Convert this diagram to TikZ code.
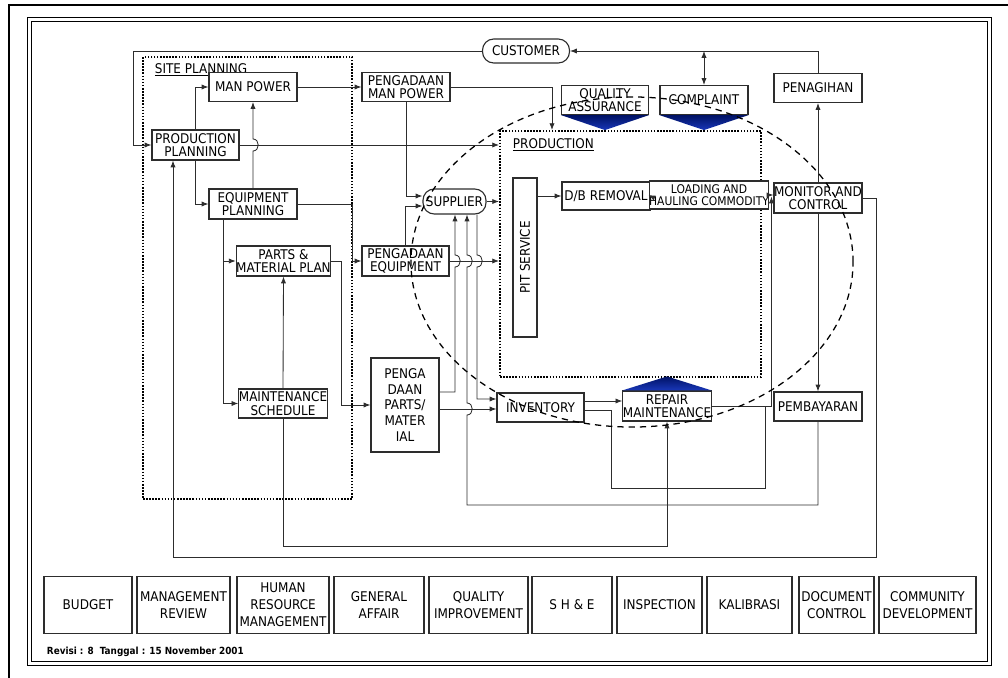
\documentclass[tikz,border=0pt]{standalone}
\usepackage{fontspec}
\setmainfont{DejaVu Sans Condensed}
\usetikzlibrary{arrows.meta,positioning,calc,fit}
\definecolor{cNavy}{RGB}{0,18,100}
\definecolor{cBlue}{RGB}{25,55,185}
\definecolor{cLine}{RGB}{45,45,45}
\newcommand{\nfont}{\fontsize{9.5}{9.5}\selectfont}
\newcommand{\sfont}{\fontsize{8.5}{8.5}\selectfont}
\newcommand{\bfont}{\fontsize{9.5}{12}\selectfont}

\begin{document}
\begin{tikzpicture}[x=0.025cm, y=-0.025cm,
  box/.style={draw=cLine, line width=0.8pt, fill=white, font=\nfont, align=center,
              inner sep=0pt, minimum width=2.2cm, minimum height=0.73cm},
  rbox/.style={box, rounded corners=0.28cm},
  grp/.style={draw=black, line width=1.3pt, dash pattern=on 1.1pt off 1.1pt, inner sep=0pt},
  bot/.style={box, font=\bfont, minimum height=1.44cm},
  lnk/.style={draw=cLine, line width=0.6pt},
  arr/.style={lnk, -{Latex[length=1.7mm,width=1.3mm]}},
  dbl/.style={lnk, {Latex[length=1.7mm,width=1.3mm]}-{Latex[length=1.7mm,width=1.3mm]}},
  tri/.style={top color=cNavy, bottom color=cBlue, draw=none}]
\useasboundingbox (0,0) rectangle (1008,678);
% frame
\draw[line width=0.8pt] (9,678) -- (9,5) -- (1008,5);
\draw[line width=0.6pt] (27,17) rectangle (991,665);
\draw[line width=0.6pt] (31,21) rectangle (987,661);
% groups
\node[grp, fit={(143,57) (352,499)}] (site) {};
\node[grp, fit={(500,131) (761,377)}] (prod) {};
\node[anchor=west, font=\nfont] (sitelbl) at (150,70) {\underline{SITE PLANNING}};
\node[anchor=west, font=\nfont] (prodlbl) at (508,145) {\underline{PRODUCTION}};
% nodes
\node[rbox, minimum width=2.175cm, minimum height=0.6cm] (cust) at (526,51) {CUSTOMER};
\node[box, minimum height=0.725cm] (mp) at (253,87) {MAN POWER};
\node[box, minimum height=0.725cm] (pmp) at (406,87) {PENGADAAN\\MAN POWER};
\node[box, minimum width=2.175cm, minimum height=0.725cm] (qa) at (605,100) {QUALITY\\ASSURANCE};
\node[box, minimum height=0.725cm] (cpl) at (704,100) {COMPLAINT};
\node[box, minimum height=0.725cm] (pen) at (818,88) {PENAGIHAN};
\node[box, minimum width=2.175cm, minimum height=0.75cm] (pp) at (195.5,145) {PRODUCTION\\PLANNING};
\node[box, minimum height=0.75cm] (ep) at (253,204) {EQUIPMENT\\PLANNING};
\node[rbox, minimum width=1.575cm, minimum height=0.625cm] (sup) at (454.5,201.5) {SUPPLIER};
\node[box, minimum width=0.6cm, minimum height=3.975cm] (pit) at (525,257.5) {\rotatebox{90}{PIT SERVICE}};
\node[box, minimum height=0.7cm] (db) at (606,196) {D/B REMOVAL};
\node[box, minimum width=2.35cm, minimum height=0.7cm, font=\sfont] (load) at (709,195) {LOADING AND\\HAULING COMMODITY};
\node[box, minimum height=0.75cm] (mc) at (818,198) {MONITOR AND\\CONTROL};
\node[box, minimum width=2.225cm, minimum height=0.75cm] (pmat) at (283.5,261) {PARTS \&\\MATERIAL PLAN};
\node[box, minimum width=2.175cm, minimum height=0.75cm] (peq) at (405.5,261) {PENGADAAN\\EQUIPMENT};
\node[box, minimum width=1.7cm, minimum height=2.35cm, font=\fontsize{9.5}{11.3}\selectfont] (pdp) at (405,405) {PENGA\\DAAN\\PARTS/\\MATER\\IAL};
\node[box, minimum height=0.725cm] (ms) at (283,403.5) {MAINTENANCE\\SCHEDULE};
\node[box, minimum width=2.175cm, minimum height=0.725cm] (inv) at (540.5,407.5) {INVENTORY};
\node[box, minimum height=0.75cm] (rep) at (667,406) {REPAIR\\MAINTENANCE};
\node[box, minimum height=0.725cm] (pem) at (818,406.5) {PEMBAYARAN};
% markers
\shade[tri] (qa.south west) -- (qa.south east) -- ($(qa.south)+(0,15)$) -- cycle;
\shade[tri] (cpl.south west) -- (cpl.south east) -- ($(cpl.south)+(0,15)$) -- cycle;
\shade[tri] (rep.north west) -- (rep.north east) -- ($(rep.north)+(0,-14)$) -- cycle;
% support units
\node[bot, minimum width=2.2cm] (bud) at (88,605) {BUDGET};
\node[bot, minimum width=2.325cm] (mgr) at (183.5,605) {MANAGEMENT\\REVIEW};
\node[bot, minimum width=2.3cm] (hrm) at (283,605) {HUMAN\\RESOURCE\\MANAGEMENT};
\node[bot, minimum width=2.25cm] (ga) at (379,605) {GENERAL\\AFFAIR};
\node[bot, minimum width=2.475cm] (qi) at (478.5,605) {QUALITY\\IMPROVEMENT};
\node[bot, minimum width=2.0cm] (she) at (572,605) {S H \& E};
\node[bot, minimum width=2.125cm] (insp) at (659.5,605) {INSPECTION};
\node[bot, minimum width=2.125cm] (kal) at (749.5,605) {KALIBRASI};
\node[bot, minimum width=1.875cm] (doc) at (836.5,605) {DOCUMENT\\CONTROL};
\node[bot, minimum width=2.425cm] (comm) at (927.5,605) {COMMUNITY\\DEVELOPMENT};
\node[anchor=west, font=\fontsize{7}{8}\selectfont\bfseries] (rev) at (42,652) {Revisi : 8 \ Tanggal : 15 November 2001};
% customer and billing
\draw[arr] (cust.west) -| (133,145) -- (pp.west);
\draw[arr] (pen.north) |- (cust.east);
\draw[dbl] (cpl.north |- cust.east) -- (cpl.north);
\draw[arr] (mc.north) -- (pen.south);
\draw[arr] (mc.south) -- (pem.north);
\draw[arr] (mc.east) -| (876,557) -| (pp.south -| 173,0);
% site planning
\draw[arr] (pp.north) |- (mp.west);
\draw[arr] (pp.south) |- (ep.west);
\draw[arr] (ep.north) -- (253,151) .. controls (260,151) and (260,139) .. (253,139) -- (mp.south);
\draw[arr] (mp.east) -- (pmp.west);
\draw[arr] (pp.east) -- (pp.east -| prod.west);
\draw[arr] (ep.east) -| (site.east |- peq.west) -- (peq.west);
\draw[arr] (ep.south -| 223,0) |- (pmat.west);
\draw[arr] (ep.south -| 223,0) |- (ms.west);
\draw[arr] (ms.north) -- (pmat.south);
\draw[arr] (pmat.east) -| (341,405) -- (pdp.west);
\draw[arr] (ms.south) -- ++(0,128) -| (rep.south);
% procurement
\draw[arr] (pmp.east) -| (prod.north -| 552,0);
\draw[arr] (pmp.south) |- (sup.west |- 0,196);
\draw[arr] (peq.north) |- (sup.west |- 0,206);
\draw[arr] (sup.east) -- (sup.east -| prod.west);
\draw[arr] (peq.east) -- (peq.east -| prod.west);
\draw[arr] (pdp.east |- 0,392) -- (455,392) -- (455,267) .. controls (462,267) and (462,255) .. (455,255) -- (sup.south -| 455,0);
\draw[arr] (pem.south) |- (467,505) -- (467,415) .. controls (474,415) and (474,403) .. (467,403)
  -- (467,267) .. controls (474,267) and (474,255) .. (467,255) -- (sup.south -| 467,0);
\draw[arr] (sup.south -| 477,0) -- (477,255) .. controls (484,255) and (484,267) .. (477,267) |- (inv.west |- 0,399);
\draw[arr] (pdp.east |- 0,409) -- (inv.west |- 0,409);
% production
\draw[arr] (pit.east |- db.west) -- (db.west);
\draw[arr] (db.east) -- (load.west);
\draw[arr] (load.east) -- (load.east -| mc.west);
\draw[arr] (rep.east) -| ($(load.east)!.5!(mc.west)$);
\draw[arr] (inv.east |- 0,401) -- (rep.west |- 0,401);
\draw[lnk] (inv.east |- 0,410) -| (611,488) -| (rep.east -| 765,0);
% core process
\draw[line width=0.9pt, dash pattern=on 4.5pt off 3.5pt] (632,262) ellipse [x radius=5.525cm, y radius=4.125cm];
\end{tikzpicture}
\end{document}
